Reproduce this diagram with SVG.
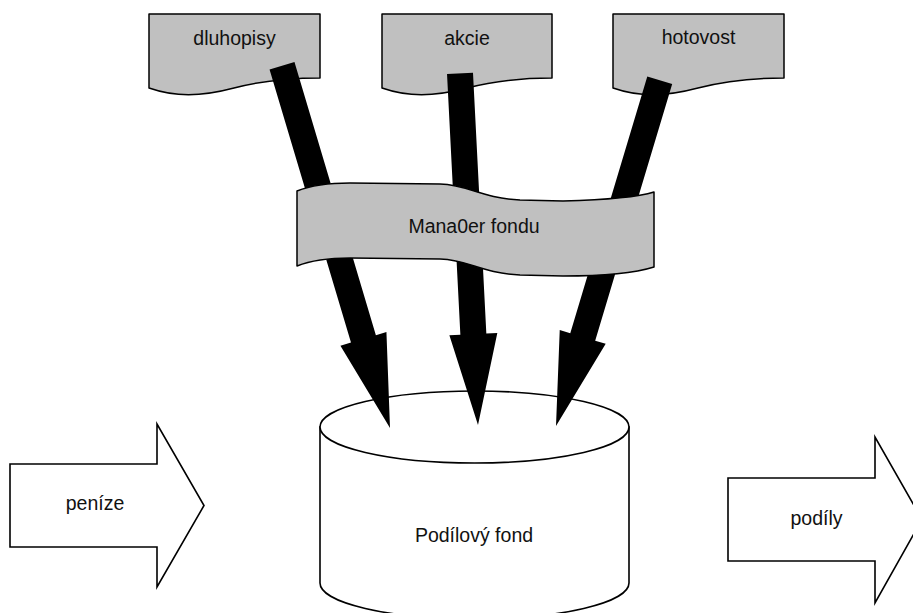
<svg xmlns="http://www.w3.org/2000/svg" width="913" height="613" viewBox="0 0 913 613">
<style>
.doc{fill:#c0c0c0;stroke:#000;stroke-width:1.5;stroke-linejoin:round}
.wht{fill:#fff;stroke:#000;stroke-width:1.6;stroke-linejoin:miter}
.lbl{font-family:"Liberation Sans",Arial,sans-serif;font-size:19.5px;fill:#111;text-anchor:middle}
.conn{fill:#000;stroke:none}
</style>
<rect width="913" height="613" fill="#fff"/>
<g id="fond">
  <path class="wht" d="M320,427 V583 A154.5,36 0 0 0 629,583 V427 Z"/>
  <ellipse class="wht" cx="474.5" cy="427" rx="154.5" ry="36"/>
  <text class="lbl" x="474" y="542">Podílový fond</text>
</g>
<g id="dluhopisy">
  <path class="doc" d="M149,14 H320 V78 C290,78 265,80 234,88 C200,97 175,97 149,88 Z"/>
  <text class="lbl" x="234.5" y="45">dluhopisy</text>
</g>
<g id="akcie">
  <path class="doc" d="M382,14 H552 V78 C522,78 497,80 467,88 C433,97 408,97 382,88 Z"/>
  <text class="lbl" x="467" y="45">akcie</text>
</g>
<g id="hotovost">
  <path class="doc" d="M613,14 H784 V78 C754,78 729,80 698,88 C664,97 639,97 613,88 Z"/>
  <text class="lbl" x="698.5" y="44">hotovost</text>
</g>
<g id="connectors">
  <polygon class="conn" transform="translate(390,428) rotate(-16.6)" points="-13,-378 13,-378 13,-93 24,-93 0,0 -24,-93 -13,-93"/>
  <polygon class="conn" transform="translate(478,425) rotate(-2.93)" points="-13,-352 13,-352 13,-91 24,-91 0,0 -24,-91 -13,-91"/>
  <polygon class="conn" transform="translate(556,426) rotate(16.7)" points="-13,-361 13,-361 13,-93 24,-93 0,0 -24,-93 -13,-93"/>
</g>
<g id="manazer">
  <path class="doc" d="M297,191 C312,185 330,183 350,183 L440,184 C470,185 480,198 520,200 L563,201 C600,200 635,198 654,192 L654,267 C635,273 600,276 563,276 L520,275 C480,273 470,260 440,259 L350,258 C330,258 312,260 297,266 Z"/>
  <text class="lbl" x="474" y="233">Mana0er fondu</text>
</g>
<g id="penize">
  <polygon class="wht" points="10,464 157,464 157,424 204,505.5 157,587 157,547 10,547"/>
  <text class="lbl" x="95" y="510">peníze</text>
</g>
<g id="podily">
  <polygon class="wht" points="728,478 875,478 875,437 922,519.5 875,603 875,561 728,561"/>
  <text class="lbl" x="816.5" y="525">podíly</text>
</g>
</svg>
